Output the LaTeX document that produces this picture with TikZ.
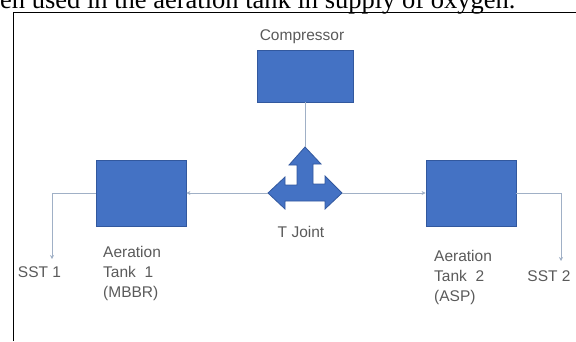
\documentclass[tikz,border=0pt]{standalone}
\usepackage{fontspec}
\setmainfont{Liberation Sans}
\newfontfamily\serifface{Liberation Serif}
\usetikzlibrary{arrows.meta}
\definecolor{boxblue}{RGB}{68,114,196}
\definecolor{boxedge}{RGB}{50,88,158}
\definecolor{linegray}{RGB}{160,176,198}
\definecolor{labelgray}{RGB}{90,90,90}
\begin{document}
\begin{tikzpicture}[x=1pt,y=-1pt,
  tank/.style={draw=boxedge, fill=boxblue, line width=0.8pt, inner sep=0pt},
  conn/.style={draw=linegray, line width=0.9pt},
  tipend/.style={-{Stealth[length=4pt,width=4pt]}},
  lbl/.style={text=labelgray, font=\fontsize{15.5}{20}\selectfont, inner sep=0pt},
]
\useasboundingbox (0,0) rectangle (576,341);
\clip (0,0) rectangle (576,341);
% caption fragment and frame
\node[anchor=base west, inner sep=0pt, font=\serifface\fontsize{26.5}{30}\selectfont] (caption) at (0,8.5) {en used in the aeration tank in supply of oxygen.};
\draw[line width=1.6pt] (13.5,341) -- (13.5,12.5) -- (576,12.5);
% boxes
\node[tank, minimum width=96pt, minimum height=52pt] (comp) at (305,76) {};
\node[tank, minimum width=90pt, minimum height=66pt] (tank1) at (141,193) {};
\node[tank, minimum width=90pt, minimum height=66pt] (tank2) at (471,193) {};
% T joint
\coordinate (tjC) at (305,193);
\coordinate (tjU) at (305,147);
\coordinate (tjL) at (268,193);
\coordinate (tjR) at (342,193);
\draw[draw=boxedge, fill=boxblue, line width=0.8pt, line join=miter]
  (tjU) -- ++(16,17) -- ++(-8,0) -- ++(0,20) -- ++(12,0) -- ++(0,-8)
  -- (tjR) -- ++(-17,16) -- ++(0,-8) -- ++(-40,0) -- ++(0,8)
  -- (tjL) -- ++(17,-16) -- ++(0,8) -- ++(12,0) -- ++(0,-20) -- ++(-8,0) -- cycle;
% labels
\node[lbl] (complbl) at (302,36.5) {Compressor};
\node[lbl] (tjlbl) at (301,232) {T Joint};
\node[lbl, anchor=base west, align=left] (t1lbl) at (103,297.5) {Aeration\\Tank\ \ 1\\(MBBR)};
\node[lbl, anchor=base west, align=left] (t2lbl) at (434,301.5) {Aeration\\Tank\ \ 2\\(ASP)};
\node[lbl] (sst1) at (39.5,272) {SST 1};
\node[lbl] (sst2) at (549,276) {SST 2};
\coordinate (sst1end) at (52,259);
\coordinate (sst2end) at (561,261);
% connectors
\draw[conn] (comp.south) -- (tjU);
\draw[conn, tipend] (tjL) -- (tank1.east);
\draw[conn, tipend] (tjR) -- (tank2.west);
\draw[conn, tipend] (tank1.west) -| (sst1end);
\draw[conn, tipend] (tank2.east) -| (sst2end);
\end{tikzpicture}
\end{document}
